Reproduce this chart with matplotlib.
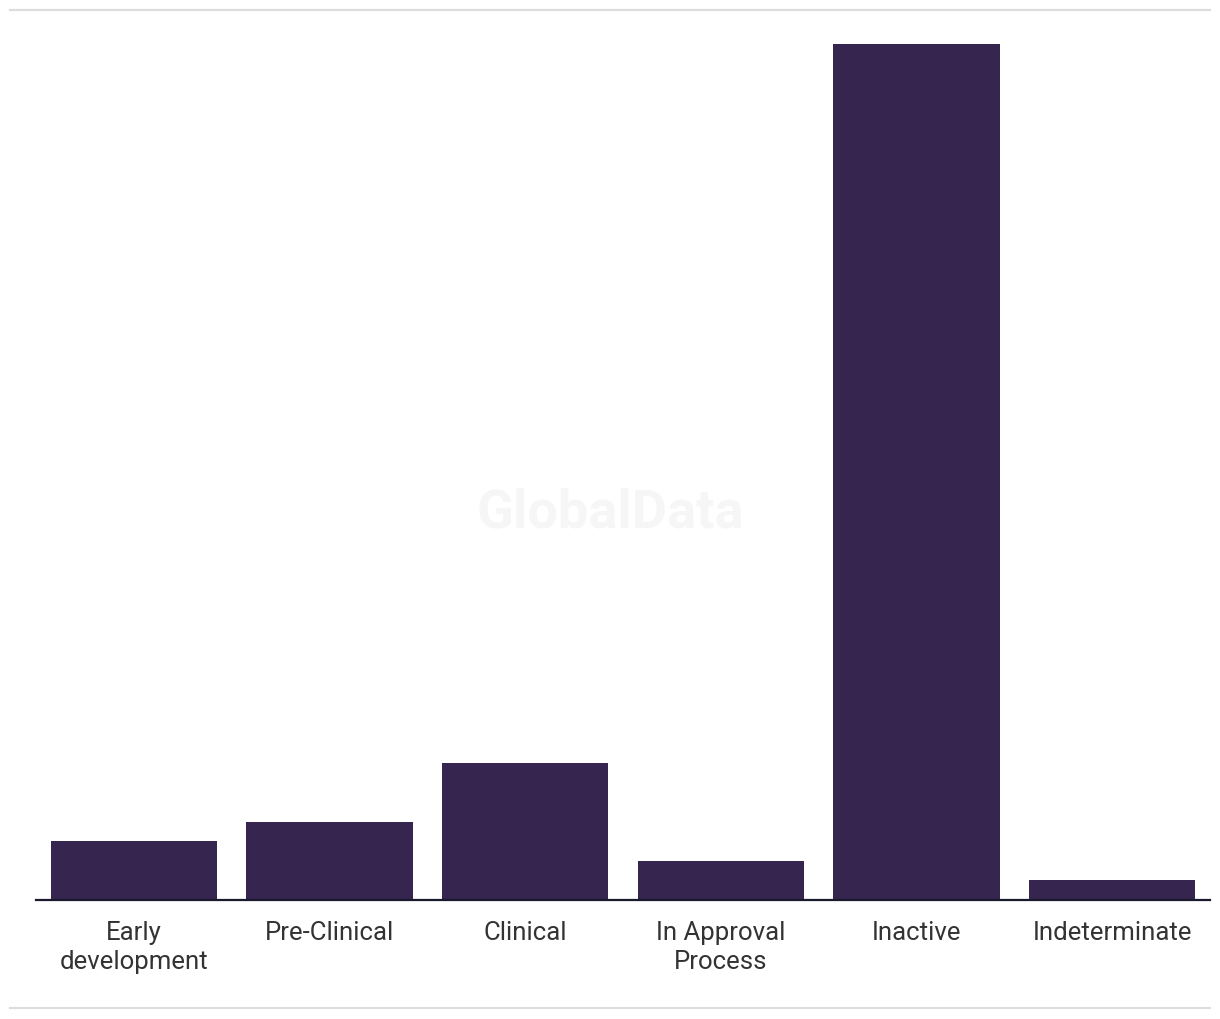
import matplotlib
matplotlib.use("Agg")
import matplotlib.pyplot as plt
from matplotlib.lines import Line2D

categories = ["Early\ndevelopment", "Pre-Clinical", "Clinical", "In Approval\nProcess", "Inactive", "Indeterminate"]
values = [3, 4, 7, 2, 44, 1]

plt.rcParams['font.family'] = ['Roboto', 'DejaVu Sans']

fig = plt.figure(figsize=(12.2, 10.2), dpi=100)
W, H = 1220, 1020
ax = fig.add_axes([36 / W, 1 - 900.5 / H, (1210 - 36) / W, (900.5 - 45) / H])

x = list(range(len(categories)))
ax.bar(x, values, width=0.85, color="#35254F", zorder=2)
ax.set_xlim(-0.5, len(categories) - 0.5)
ax.set_ylim(0, 44)
ax.set_xticks(x)
ax.set_xticklabels(categories, fontsize=18.5, color="#333333", linespacing=1.3)
ax.tick_params(axis="x", length=0, pad=14.5)
ax.set_yticks([])
for s in ["top", "right", "left"]:
    ax.spines[s].set_visible(False)
ax.spines["bottom"].set_color("#1a1a2e")
ax.spines["bottom"].set_linewidth(1.6)
ax.set_facecolor("none")

# frame lines
fig.add_artist(Line2D([10 / W, 1210 / W], [1 - 11 / H, 1 - 11 / H], color="#dddddd", lw=1.6))
fig.add_artist(Line2D([10 / W, 1210 / W], [1 - 1009 / H, 1 - 1009 / H], color="#dddddd", lw=1.6))

# watermark
fig.text(610 / W, 1 - 513 / H, "GlobalData", fontsize=39, fontweight="bold",
         color="#f6f6f6", ha="center", va="center", zorder=0)

fig.savefig("out.png", dpi=100, facecolor="white")
